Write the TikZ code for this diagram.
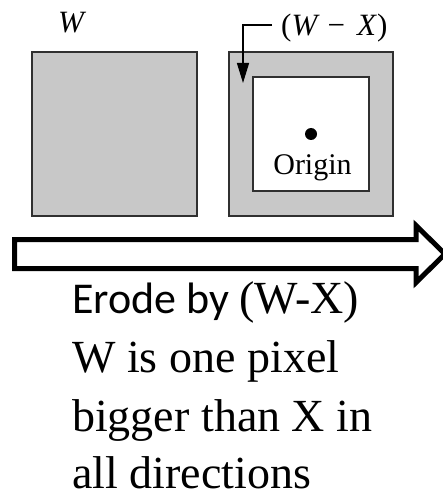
\documentclass[tikz,border=0pt]{standalone}
\usepackage{fontspec}
\setmainfont{Liberation Serif}
\newfontfamily\calfont{Carlito}
\usetikzlibrary{arrows.meta}
\definecolor{boxgray}{HTML}{C8C8C8}
\definecolor{edge}{HTML}{303030}
\tikzset{
  sq/.style={draw=edge, line width=1.4pt, fill=boxgray},
  inner/.style={draw=edge, line width=1.4pt, fill=white},
  lbl/.style={inner sep=0pt, anchor=base west},
  bigtext/.style={inner sep=0pt, anchor=base west, font=\fontsize{46}{50}\selectfont},
  leader/.style={draw=black, line width=1.3pt, -{Triangle[width=12pt,length=20pt]}},
  hollow/.style={draw=black, line width=5pt, fill=white, line join=miter}
}
\begin{document}
\begin{tikzpicture}[x=1pt,y=-1pt]
\useasboundingbox (0,0) rectangle (443,497);
\clip (0,0) rectangle (443,497);
% left square
\draw[sq] (32,52) rectangle (197,216);
\node[lbl, font=\fontsize{31}{34}\selectfont\itshape] (wlab) at (58,33) {W};
% right square
\draw[sq] (229,52) rectangle (393,216);
\draw[inner] (253,77) rectangle (369,191);
\fill (311,134) circle (6);
\node[inner sep=0pt, anchor=base, font=\fontsize{30}{32}\selectfont] (orig) at (312.5,174) {Origin};
% (W - X) label
\node[lbl, font=\fontsize{31}{34}\selectfont] (wx) at (281,36) {(\textit{W}\hspace{8pt}−\hspace{12pt}\textit{X})};
\coordinate (c1) at (272,25);
\coordinate (c2) at (243,25);
\coordinate (c3) at (243,83);
\draw[leader] (c1) -- (c2) -- (c3);
% big hollow arrow
\draw[hollow] (14.5,239.5) -- (416,239.5) -- (416,225.5) -- (445,254) -- (416,282.5) -- (416,268.5) -- (14.5,268.5) -- cycle;
% text
\node[lbl] (t1) at (72,313) {{\calfont\fontsize{44}{50}\selectfont Erode by }{\fontsize{46}{50}\selectfont (W-X)}};
\node[bigtext] (t2) at (72,372) {W is one pixel};
\node[bigtext] (t3) at (72,431) {bigger than X in};
\node[bigtext] (t4) at (72,488) {all directions};
\end{tikzpicture}
\end{document}
